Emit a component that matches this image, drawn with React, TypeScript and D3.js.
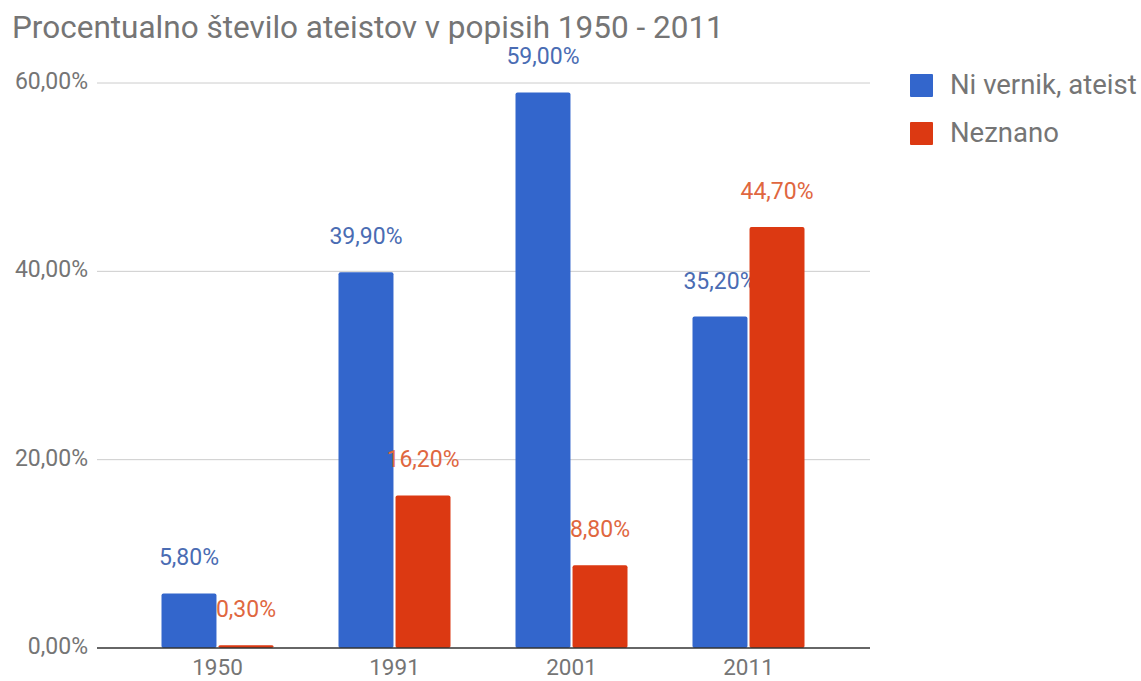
import React from "react";
import * as d3 from "d3";

const years = ["1950", "1991", "2001", "2011"];
const seriesNames = ["Ni vernik, ateist", "Neznano"];
const atheist = [5.8, 39.9, 59.0, 35.2];
const unknown = [0.3, 16.2, 8.8, 44.7];
const yTicks = [0, 20, 40, 60];
const colors = ["#3366cc", "#dc3912"];
const labelColors = ["#4a6cb3", "#e0673f"];

const fmt = (v: number) => v.toFixed(2).replace(".", ",") + "%";

export default function App() {
  const W = 1141, H = 681;
  const y = d3.scaleLinear().domain([0, 60]).range([648, 83]);
  const x0 = d3.scaleBand().domain(years).range([129, 837]).padding(0);
  const x1 = d3.scaleBand().domain(seriesNames).range([32.5, 144.5]).paddingInner(0.036);
  const data = [atheist, unknown];
  const font = "Roboto, 'Noto Sans', sans-serif";
  return (
    <svg width={W} height={H} style={{ position: "absolute", left: 0, top: 0, background: "#fff" }} fontFamily={font}>
      <rect width={W} height={H} fill="#fff" />
      <text x={12} y={38} fontSize={31.5} fill="#757575">Procentualno število ateistov v popisih 1950 - 2011</text>
      {yTicks.map((t) => (
        <g key={t}>
          {t !== 0 && <line x1={97} x2={870} y1={y(t)} y2={y(t)} stroke="#cccccc" strokeWidth={1} />}
          <text x={88} y={y(t) + 6} textAnchor="end" fontSize={23} fill="#757575">{fmt(t)}</text>
        </g>
      ))}
      {years.map((yr, i) => (
        <g key={yr} transform={`translate(${x0(yr)},0)`}>
          {seriesNames.map((s, j) => {
            const v = data[j][i];
            const bx = x1(s)!;
            const bw = x1.bandwidth();
            return (
              <g key={s}>
                <rect x={bx} y={y(v)} width={bw} height={y(0) - y(v)} fill={colors[j]} rx={2} />
                <text x={bx + bw / 2} y={y(v) - 28} textAnchor="middle" fontSize={23} fill={labelColors[j]}>{fmt(v)}</text>
              </g>
            );
          })}
          <text x={x0.bandwidth() / 2} y={675} textAnchor="middle" fontSize={22.5} fill="#757575">{yr}</text>
        </g>
      ))}
      <line x1={97} x2={870} y1={y(0)} y2={y(0)} stroke="#333333" strokeWidth={1.5} />
      {seriesNames.map((s, j) => (
        <g key={s} transform={`translate(910,${74 + j * 48})`}>
          <rect width={23} height={23} fill={colors[j]} rx={1} />
          <text x={40} y={20} fontSize={27.5} fill="#757575">{s}</text>
        </g>
      ))}
    </svg>
  );
}
